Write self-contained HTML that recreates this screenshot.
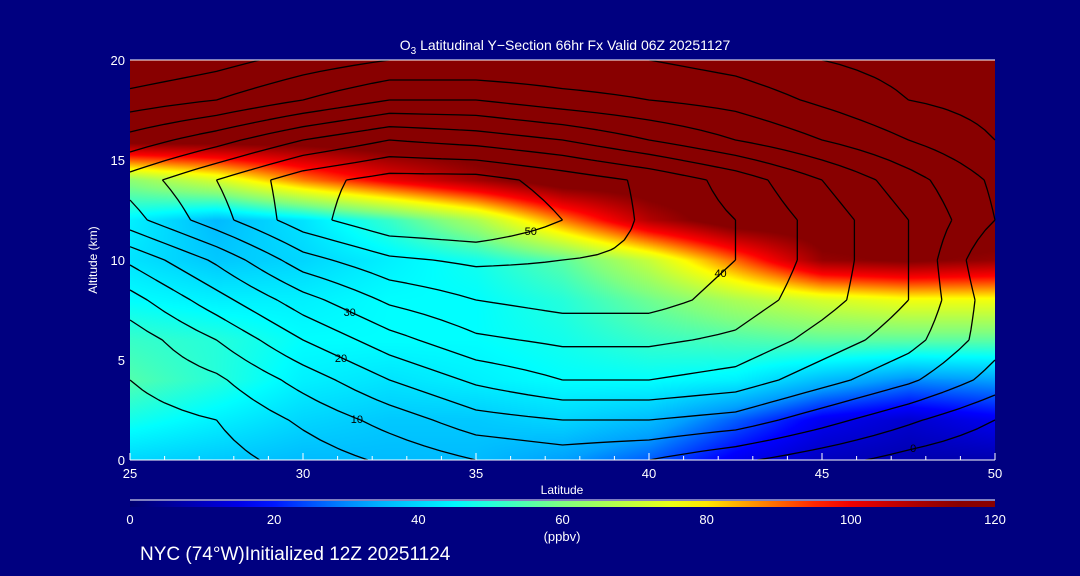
<!DOCTYPE html>
<html><head><meta charset="utf-8">
<style>
html,body{margin:0;padding:0;background:#000080;}
#root{position:relative;width:1080px;height:576px;background:#000080;overflow:hidden;font-family:"Liberation Sans",sans-serif;color:#fff;}
canvas{position:absolute;left:130px;top:60px;}
svg{position:absolute;left:0;top:0;}
</style></head>
<body>
<div id="root">
<canvas id="fill" width="865" height="400"></canvas>
<svg id="svg" width="1080" height="576"></svg>
</div>
<script>
// ---- data ----
const lats = [25,27.5,30,32.5,35,37.5,40,42.5,45,47.5,50];
const alts = [0,2,4,6,8,10,12,14,16,18,20];
// ozone fill (ppbv), rows = alts
const fillRow0  = [40,38,36,36,36,32,26,16,10,8,8];
const fillRow2  = [48,44,40,38,38,40,36,26,16,12,16];
const fillRow4  = [55,50,44,42,44,46,46,44,36,30,32];
const fillRow6  = [52,50,46,46,46,48,52,54,56,56,56];
const fillRow8  = [46,44,44,46,46,50,58,66,72,76,76];
const fillRow10 = [42,38,40,44,48,56,70,90,112,115,112];
const fillRow12 = [44,36,42,52,66,88,108,120,120,120,120];
const fillRow14 = [62,72,88,100,110,120,120,120,120,120,120];
const fillRow16 = [118,118,118,120,120,120,120,120,120,120,120];
const fillRow18 = [120,120,120,120,120,120,120,120,120,120,120];
const fillRow20 = [120,120,120,120,120,120,120,120,120,120,120];
const fillGrid = [fillRow0,fillRow2,fillRow4,fillRow6,fillRow8,fillRow10,fillRow12,fillRow14,fillRow16,fillRow18,fillRow20];
// contour field
const conRow0  = [-4,-2,2,6,10,12,10,6,2,-2,-5];
const conRow2  = [-2,0,6,12,18,20,20,18,12,6,0];
const conRow4  = [0,4,12,20,26,30,30,28,22,16,8];
const conRow6  = [2,10,20,28,34,36,36,34,28,22,12];
const conRow8  = [8,18,28,36,40,42,42,38,32,25,12];
const conRow10 = [16,26,38,44,46,45,44,40,33,25,10];
const conRow12 = [28,38,48,54,55,50,44,40,33,25,15];
const conRow14 = [32,40,48,52,52,48,44,38,30,22,14];
const conRow16 = [22,28,35,40,38,35,30,25,20,15,10];
const conRow18 = [12,15,20,25,25,22,20,18,14,10,8];
const conRow20 = [5,8,12,15,15,15,15,13,10,8,5];
const conGrid = [conRow0,conRow2,conRow4,conRow6,conRow8,conRow10,conRow12,conRow14,conRow16,conRow18,conRow20];
const conLevels = [-10,-5,0,5,10,15,20,25,30,35,40,45,50,55];
const xTicks = [25,30,35,40,45,50];
const yTicks = [0,5,10,15,20];
const cbTicks = [0,20,40,60,80,100,120];

// ---- scales ----
const X0=130,X1=995,Y0=460,Y1=60;
const xs = v => X0+(v-25)/25*(X1-X0);
const ys = v => Y0-(v/20)*(Y0-Y1);
const stops=[[0,[0,0,110]],[18,[0,0,255]],[32,[0,160,255]],[46,[0,255,255]],[60,[128,255,128]],[78,[255,255,0]],[98,[255,0,0]],[114,[136,0,0]],[120,[136,0,0]]];
function cmap(v){v=Math.max(0,Math.min(120,v));for(let i=0;i<stops.length-1;i++){const a=stops[i],b=stops[i+1];if(v<=b[0]){const t=(v-a[0])/(b[0]-a[0]);return a[1].map((c,k)=>Math.round(c+(b[1][k]-c)*t));}}return stops[stops.length-1][1];}
function sample(g,lat,alt){let fx=(lat-25)/2.5,fy=alt/2;fx=Math.max(0,Math.min(10,fx));fy=Math.max(0,Math.min(10,fy));
 const i=Math.min(9,Math.floor(fx)),j=Math.min(9,Math.floor(fy));const tx=fx-i,ty=fy-j;
 return g[j][i]*(1-tx)*(1-ty)+g[j][i+1]*tx*(1-ty)+g[j+1][i]*(1-tx)*ty+g[j+1][i+1]*tx*ty;}

// ---- fill ----
const ctx=document.getElementById('fill').getContext('2d');
const img=ctx.createImageData(865,400);
for(let py=0;py<400;py++){const alt=(400-py)/20;for(let px=0;px<865;px++){const lat=25+px/34.6;const c=cmap(sample(fillGrid,lat,alt));const o=(py*865+px)*4;img.data[o]=c[0];img.data[o+1]=c[1];img.data[o+2]=c[2];img.data[o+3]=255;}}
ctx.putImageData(img,0,0);

// ---- svg ----
const svg=document.getElementById('svg');const NS='http://www.w3.org/2000/svg';
function mk(tag,attrs,parent){const e=document.createElementNS(NS,tag);for(const k in attrs)e.setAttribute(k,attrs[k]);(parent||svg).appendChild(e);return e;}
function txt(s,x,y,attrs){const t=mk('text',Object.assign({x:x,y:y,fill:'#fff','font-size':13,'font-family':'Liberation Sans, sans-serif'},attrs||{}));t.textContent=s;return t;}

const cg=mk('g',{fill:'none',stroke:'#000','stroke-width':1.3});


const dl=0.5,da=0.5,NX=50,NY=40;
const F=[];for(let j=0;j<=NY;j++){F.push([]);for(let i=0;i<=NX;i++)F[j].push(sample(conGrid,25+i*dl,j*da));}
conLevels.forEach(L=>{
 let d='';const segs=[];
 for(let j=0;j<NY;j++)for(let i=0;i<NX;i++){
  const v=[F[j][i],F[j][i+1],F[j+1][i+1],F[j+1][i]];
  const P=[[i,j],[i+1,j],[i+1,j+1],[i,j+1]];
  const pts=[];
  for(let e=0;e<4;e++){const a=v[e],b=v[(e+1)%4];if((a<L)!==(b<L)){const t=(L-a)/(b-a);const pa=P[e],pb=P[(e+1)%4];pts.push([pa[0]+(pb[0]-pa[0])*t,pa[1]+(pb[1]-pa[1])*t]);}}
  for(let k=0;k+1<pts.length;k+=2){const A=pts[k],B=pts[k+1];const ax=xs(25+A[0]*dl),ay=ys(A[1]*da),bx=xs(25+B[0]*dl),by=ys(B[1]*da);d+=`M${ax.toFixed(1)},${ay.toFixed(1)}L${bx.toFixed(1)},${by.toFixed(1)}`;segs.push([(ax+bx)/2,(ay+by)/2]);}
 }
 if(d){const p=mk('path',{d:d},cg);if(L<0)p.setAttribute('stroke-dasharray','4,3');
  
  
  if(L%10===0&&segs.length){const s=segs[Math.floor(segs.length*0.3)];const t=txt(String(L),s[0]-7,s[1]+4,{fill:'#000','font-size':11});
   
   }}
});

const ax=mk('g',{stroke:'#fff','stroke-width':1});


mk('line',{x1:X0,y1:Y1,x2:X1,y2:Y1},ax);
mk('line',{x1:X0,y1:Y0,x2:X1,y2:Y0},ax);
for(let l=25;l<=50;l++){mk('line',{x1:xs(l),y1:Y0,x2:xs(l),y2:Y0-(l%5?4:7)},ax);}
xTicks.forEach(v=>{const t=txt(String(v),xs(v),Y0+18,{'text-anchor':'middle'});});
yTicks.forEach(v=>{const t=txt(String(v),X0-5,ys(v)+5,{'text-anchor':'end'});});
const xt=txt('Latitude',562,494,{'text-anchor':'middle','font-size':12});
const yt=txt('Altitude (km)',97,260,{'text-anchor':'middle','font-size':12,transform:'rotate(-90 97 260)'});
const tt=mk('text',{x:565,y:50,fill:'#fff','font-size':14,'text-anchor':'middle','font-family':'Liberation Sans, sans-serif'});
tt.innerHTML='O<tspan font-size="10" dy="4">3</tspan><tspan dy="-4"> Latitudinal Y−Section 66hr  Fx Valid 06Z 20251127</tspan>';


const defs=mk('defs',{});const lg=mk('linearGradient',{id:'cb',x1:0,x2:1,y1:0,y2:0},defs);
for(let v=0;v<=120;v+=5){const c=cmap(v);mk('stop',{offset:v/120,'stop-color':`rgb(${c})`},lg);}
mk('line',{x1:X0,y1:500,x2:X1,y2:500,stroke:'#fff'});
const cb=mk('rect',{x:X0,y:501,width:X1-X0,height:6,fill:'url(#cb)'});

cbTicks.forEach(v=>{const t=txt(String(v),X0+v/120*(X1-X0),524,{'text-anchor':'middle'});});
const un=txt('(ppbv)',562,541,{'text-anchor':'middle'});
const ft=txt('NYC (74°W)Initialized 12Z 20251124',140,560,{'font-size':19});
</script>
</body></html>
